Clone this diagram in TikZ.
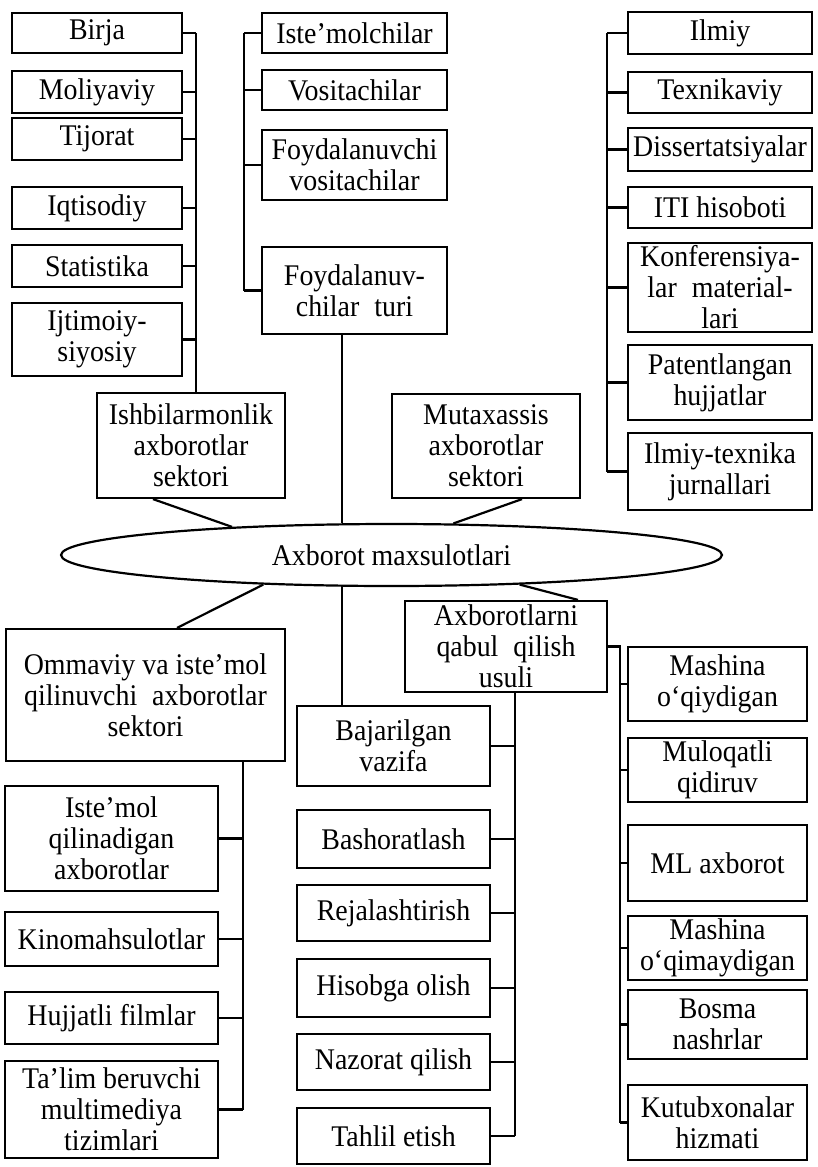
\documentclass[tikz,border=0pt]{standalone}
\usepackage{fontspec}
\setmainfont{Liberation Serif}[FakeStretch=0.93]
\usetikzlibrary{shapes.geometric}
\begin{document}
\begin{tikzpicture}[x=1pt,y=-1pt,
  bx/.style={draw,line width=2.2pt,inner sep=0pt,align=center,font=\fontsize{30}{31}\selectfont},
  ln/.style={line width=2.2pt},
  ell/.style={draw,ellipse,line width=2.2pt,inner sep=0pt,minimum width=661pt,minimum height=62pt,font=\fontsize{30}{31}\selectfont}]
\fill[white] (0,0) rectangle (817,1167);
\useasboundingbox (0,0) rectangle (817,1167);
% bus coordinates
\coordinate (busL) at (196,0);
\coordinate (busM) at (244,0);
\coordinate (busR) at (607,0);
\coordinate (cx) at (342,0);
\coordinate (busOL) at (243,0);
\coordinate (busMB) at (515,0);
\coordinate (busRB) at (620,0);
% left column
\node[bx,minimum width=170pt,minimum height=40pt] (birja) at (97,33) {Birja};
\node[bx,minimum width=170pt,minimum height=42pt] (moliya) at (97,92) {Moliyaviy};
\node[bx,minimum width=170pt,minimum height=42pt] (tijorat) at (97,139) {Tijorat};
\node[bx,minimum width=170pt,minimum height=42pt] (iqtis) at (97,208) {Iqtisodiy};
\node[bx,minimum width=170pt,minimum height=42pt] (stat) at (97,266) {Statistika};
\node[bx,minimum width=170pt,minimum height=73pt] (ijtim) at (97,339.5) {Ijtimoiy-\\siyosiy};
\node[bx,minimum width=188pt,minimum height=105pt] (ishb) at (191,445.5) {Ishbilarmonlik\\axborotlar\\sektori};
% top middle
\node[bx,minimum width=185pt,minimum height=40pt] (istem) at (354.5,33) {Iste’molchilar};
\node[bx,minimum width=185pt,minimum height=40pt] (vosit) at (354.5,90) {Vositachilar};
\node[bx,minimum width=185pt,minimum height=70pt] (foyv) at (354.5,165) {Foydalanuvchi\\vositachilar};
\node[bx,minimum width=185pt,minimum height=87pt] (foyt) at (354.5,290.5) {Foydalanuv-\\chilar\enspace turi};
\node[bx,minimum width=188pt,minimum height=104pt] (mut) at (486,446) {Mutaxassis\\axborotlar\\sektori};
% right top
\node[bx,minimum width=184pt,minimum height=42pt] (ilmiy) at (720,33) {Ilmiy};
\node[bx,minimum width=184pt,minimum height=41pt] (texn) at (720,92.5) {Texnikaviy};
\node[bx,minimum width=184pt,minimum height=43pt] (diss) at (720,149.5) {Dissertatsiyalar};
\node[bx,minimum width=184pt,minimum height=41pt] (iti) at (720,207.5) {ITI hisoboti};
\node[bx,minimum width=184pt,minimum height=89pt] (konf) at (720,287.5) {Konferensiya-\\lar\enspace material-\\lari};
\node[bx,minimum width=184pt,minimum height=75pt] (pat) at (720,382.5) {Patentlangan\\hujjatlar};
\node[bx,minimum width=184pt,minimum height=77pt] (ilmtex) at (720,471.5) {Ilmiy-texnika\\jurnallari};
% ellipse
\node[ell] (ell) at (391.5,555) {Axborot maxsulotlari};
% bottom left
\node[bx,minimum width=279pt,minimum height=132pt] (omm) at (145.5,695) {Ommaviy va iste’mol\\qilinuvchi\enspace axborotlar\\sektori};
\node[bx,minimum width=213pt,minimum height=105pt] (istemol) at (111.5,838.5) {Iste’mol\\qilinadigan\\axborotlar};
\node[bx,minimum width=213pt,minimum height=54pt] (kino) at (111.5,939) {Kinomahsulotlar};
\node[bx,minimum width=213pt,minimum height=52pt] (hujj) at (111.5,1018) {Hujjatli filmlar};
\node[bx,minimum width=213pt,minimum height=97pt] (talim) at (111.5,1109.5) {Ta’lim beruvchi\\multimediya\\tizimlari};
% bottom middle
\node[bx,minimum width=202pt,minimum height=91pt] (axb) at (506,646.5) {Axborotlarni\\qabul\enspace qilish\\usuli};
\node[bx,minimum width=193pt,minimum height=80pt] (baj) at (393.5,746) {Bajarilgan\\vazifa};
\node[bx,minimum width=193pt,minimum height=58pt] (bash) at (393.5,839) {Bashoratlash};
\node[bx,minimum width=193pt,minimum height=56pt] (reja) at (393.5,913) {Rejalashtirish};
\node[bx,minimum width=193pt,minimum height=58pt] (hiso) at (393.5,988) {Hisobga olish};
\node[bx,minimum width=193pt,minimum height=56pt] (naz) at (393.5,1062) {Nazorat qilish};
\node[bx,minimum width=193pt,minimum height=56pt] (tahl) at (393.5,1136) {Tahlil etish};
% bottom right
\node[bx,minimum width=179pt,minimum height=74pt] (mash1) at (717.5,684) {Mashina\\o‘qiydigan};
\node[bx,minimum width=179pt,minimum height=64pt] (mulo) at (717.5,770) {Muloqatli\\qidiruv};
\node[bx,minimum width=179pt,minimum height=76pt] (ml) at (717.5,863) {ML axborot};
\node[bx,minimum width=179pt,minimum height=64pt] (mash2) at (717.5,948) {Mashina\\o‘qimaydigan};
\node[bx,minimum width=179pt,minimum height=69pt] (bosma) at (717.5,1024.5) {Bosma\\nashrlar};
\node[bx,minimum width=179pt,minimum height=75pt] (kutub) at (717.5,1122.5) {Kutubxonalar\\hizmati};
% connectors: left bus
\draw[ln] (birja.east -| busL) -- (ishb.north -| busL);
\foreach \n in {birja,moliya,tijorat,iqtis,stat,ijtim}
  \draw[ln] (\n.east) -- (\n.east -| busL);
% top middle bus
\draw[ln] (istem.west -| busM) -- (foyt.west -| busM);
\foreach \n in {istem,vosit,foyv,foyt}
  \draw[ln] (\n.west) -- (\n.west -| busM);
% right top bus
\draw[ln] (ilmiy.west -| busR) -- (ilmtex.west -| busR);
\foreach \n in {ilmiy,texn,diss,iti,konf,pat,ilmtex}
  \draw[ln] (\n.west) -- (\n.west -| busR);
% to ellipse
\draw[ln] (foyt.south -| cx) -- (ell.north -| cx);
\draw[ln] ([xshift=-38pt]ishb.south) -- (ell.170.5);
\draw[ln] ([xshift=36pt]mut.south) -- (ell.27.5);
% from ellipse
\draw[ln] (ell.193.4) -- ([xshift=31.5pt]omm.north);
\draw[ln] (ell.south -| cx) -- (baj.north -| cx);
\draw[ln] (ell.347.5) -- ([xshift=72pt]axb.north);
% bottom left bus
\draw[ln] (omm.south -| busOL) -- (talim.east -| busOL);
\foreach \n in {istemol,kino,hujj,talim}
  \draw[ln] (\n.east) -- (\n.east -| busOL);
% bottom middle bus
\draw[ln] (axb.south -| busMB) -- (tahl.east -| busMB);
\foreach \n in {baj,bash,reja,hiso,naz,tahl}
  \draw[ln] (\n.east) -- (\n.east -| busMB);
% bottom right bus
\draw[ln] (axb.east) -- (axb.east -| busRB) -- (kutub.west -| busRB);
\foreach \n in {mash1,mulo,ml,mash2,bosma,kutub}
  \draw[ln] (\n.west) -- (\n.west -| busRB);
\end{tikzpicture}
\end{document}
